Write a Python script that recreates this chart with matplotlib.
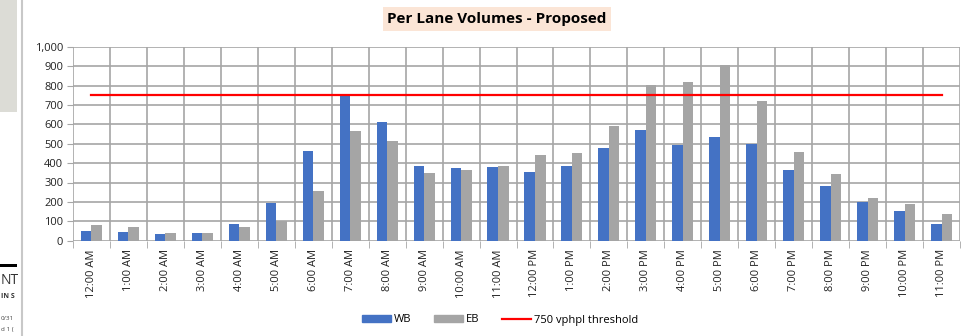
import matplotlib
matplotlib.use("Agg")
import matplotlib.pyplot as plt
import numpy as np
from matplotlib.patches import Rectangle
from matplotlib.lines import Line2D

hours = ["12:00 AM", "1:00 AM", "2:00 AM", "3:00 AM", "4:00 AM", "5:00 AM", "6:00 AM",
         "7:00 AM", "8:00 AM", "9:00 AM", "10:00 AM", "11:00 AM", "12:00 PM", "1:00 PM",
         "2:00 PM", "3:00 PM", "4:00 PM", "5:00 PM", "6:00 PM", "7:00 PM", "8:00 PM",
         "9:00 PM", "10:00 PM", "11:00 PM"]
wb = [52, 43, 36, 38, 86, 196, 464, 746, 610, 383, 373, 380, 356, 387, 479, 569, 492,
      533, 497, 363, 280, 199, 155, 86]
eb = [81, 69, 40, 42, 72, 101, 254, 565, 512, 349, 363, 385, 440, 450, 591, 804, 818,
      907, 722, 457, 342, 220, 188, 138]
threshold = 750
yticks = [0, 100, 200, 300, 400, 500, 600, 700, 800, 900, 1000]

plt.rcParams['font.family'] = ['Open Sans', 'DejaVu Sans']

fig = plt.figure(figsize=(9.66, 3.36), dpi=100)
fig.patch.set_facecolor('white')

ax = fig.add_axes([73/966, 1-240.7/336, (960-73)/966, (240.7-46.7)/336])
x = np.arange(len(hours))
w = 0.285
blue = '#4472C4'
gray = '#A5A5A5'
ax.bar(x - w/2, wb, width=w, color=blue, zorder=3, label='WB')
ax.bar(x + w/2, eb, width=w, color=gray, zorder=3, label='EB')
ax.plot(x, [threshold]*len(x), color='#FF0000', lw=1.6, zorder=4, label='750 vphpl threshold')

ax.set_xlim(-0.5, len(hours) - 0.5)
ax.set_ylim(0, 1000)
ax.set_yticks(yticks)
ax.set_yticklabels([f"{v:,}" for v in yticks], fontsize=8, color='#222222')
ax.set_xticks(x)
ax.set_xticklabels(hours, rotation=90, fontsize=8, color='#222222')
ax.tick_params(axis='x', length=0, pad=6)
ax.tick_params(axis='y', length=4, color='#a6a6a6', pad=3)
ax.set_xticks(np.arange(-0.5, len(hours)), minor=True)
ax.tick_params(axis='x', which='minor', length=5, color='#a6a6a6')
ax.grid(False)
for yv in yticks:
    ax.axhline(yv, color='#a6a6a6', lw=1.2, zorder=1)
for xv in np.arange(-0.5, len(hours)):
    ax.axvline(xv, color='#a6a6a6', lw=1.2, zorder=1)
for s in ax.spines.values():
    s.set_visible(False)

fig.text(497/966, 1-19/336, "Per Lane Volumes - Proposed", ha='center', va='center',
         fontsize=11, fontweight='bold',
         bbox=dict(boxstyle='square,pad=0.3', facecolor='#FBE5D6', edgecolor='none'))

handles = [Rectangle((0, 0), 1, 1, color=blue), Rectangle((0, 0), 1, 1, color=gray),
           Line2D([0], [0], color='#FF0000', lw=1.6)]
fig.legend(handles, ['WB', 'EB', '750 vphpl threshold'], loc='center',
           bbox_to_anchor=(500/966, 1-320/336), ncol=3, frameon=False, fontsize=8,
           handlelength=2.6, handleheight=0.6, columnspacing=2.0, handletextpad=0.3)

# left strip fragment from the screenshot
fig.add_artist(Line2D([22/966, 22/966], [0, 1], color='#c8c8c8', lw=1.5))
fig.add_artist(Rectangle((0, 1-112/336), 17/966, 112/336, facecolor='#dcdcd6', edgecolor='none'))
fig.add_artist(Rectangle((0, 1-267/336), 17/966, 3/336, facecolor='black', edgecolor='none'))
fig.text(1/966, 1-280/336, "NT", fontsize=10, va='center', ha='left', color='#333333')
fig.text(1/966, 1-296/336, "IN S", fontsize=5, va='center', ha='left', color='#333333', fontweight='bold')
fig.text(1/966, 1-318/336, "0/31", fontsize=4.5, va='center', ha='left', color='#444444')
fig.text(1/966, 1-329/336, "d 1 (", fontsize=4.5, va='center', ha='left', color='#444444')

fig.savefig("out.png", dpi=100)
